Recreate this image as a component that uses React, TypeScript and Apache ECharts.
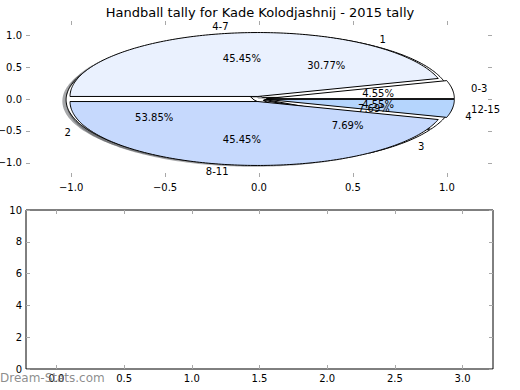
import React, { useEffect, useRef } from "react";
import * as echarts from "echarts";

// ---- data ----
const ageLabels = ["0-3", "4-7", "8-11", "12-15"];
const ageValues = [1, 10, 10, 1];
const countLabels = ["1", "2", "3", "4"];
const countValues = [4, 7, 1, 1];
const pieTicks = [-1.0, -0.5, 0.0, 0.5, 1.0];
const bottomXTicks = [0.0, 0.5, 1.0, 1.5, 2.0, 2.5, 3.0];
const titleText = "Handball tally for Kade Kolodjashnij - 2015 tally";

// ---- styling ----
const ageColors = ["#ffffff", "#eaf1fe", "#c6d9fd", "#b5d5fd"];
const countColors = ["#ffffff", "#ffffff", "#ffffff", "#ffffff"];
const AGE_EXPLODE = 0.04;
const COUNT_EXPLODE = 0.03;
const FONT = '"DejaVu Sans", sans-serif';

type Wedge = { t1: number; t2: number; mid: number; cx: number; cy: number; frac: number };

function layout(values: number[], explode: number): Wedge[] {
  const total = values.reduce((a, b) => a + b, 0);
  let t = 0;
  return values.map((v) => {
    const t1 = t;
    const t2 = t + (360 * v) / total;
    t = t2;
    const mid = (((t1 + t2) / 2) * Math.PI) / 180;
    return { t1, t2, mid, cx: explode * Math.cos(mid), cy: explode * Math.sin(mid), frac: v / total };
  });
}

const ageLayout = layout(ageValues, AGE_EXPLODE);
const countLayout = layout(countValues, COUNT_EXPLODE);

function wedgePoints(api: any, w: Wedge, dx: number, dy: number) {
  const pts: number[][] = [api.coord([w.cx + dx, w.cy + dy])];
  const n = Math.max(2, Math.ceil((w.t2 - w.t1) / 1));
  for (let k = 0; k <= n; k++) {
    const th = ((w.t1 + ((w.t2 - w.t1) * k) / n) * Math.PI) / 180;
    pts.push(api.coord([w.cx + dx + Math.cos(th), w.cy + dy + Math.sin(th)]));
  }
  return pts;
}

function wedgeSeries(lay: Wedge[], colors: string[], shadow: boolean, values: number[]) {
  return {
    type: "custom",
    xAxisIndex: 0,
    yAxisIndex: 0,
    clip: false,
    silent: true,
    data: values.map((v, i) => [i, v]),
    encode: { x: 0, y: 1 },
    renderItem: (params: any, api: any) => {
      const i = api.value(0);
      const w = lay[i];
      if (shadow) {
        return {
          type: "polygon",
          shape: { points: wedgePoints(api, w, -0.02, -0.02) },
          style: { fill: "rgba(60,62,66,0.45)", stroke: "none" },
        };
      }
      return {
        type: "polygon",
        shape: { points: wedgePoints(api, w, 0, 0) },
        style: { fill: colors[i], stroke: "#000", lineWidth: 1 },
      };
    },
  };
}

function labelSeries(lay: Wedge[], labels: string[], values: number[]) {
  return {
    type: "custom",
    xAxisIndex: 0,
    yAxisIndex: 0,
    clip: false,
    silent: true,
    data: values.map((v, i) => [i, v]),
    encode: { x: 0, y: 1 },
    renderItem: (params: any, api: any) => {
      const i = api.value(0);
      const w = lay[i];
      const xt = w.cx + 1.1 * Math.cos(w.mid);
      const yt = w.cy + 1.1 * Math.sin(w.mid);
      const p = api.coord([xt, yt]);
      const xp = w.cx + 0.6 * Math.cos(w.mid);
      const yp = w.cy + 0.6 * Math.sin(w.mid);
      const q = api.coord([xp, yp]);
      return {
        type: "group",
        children: [
          {
            type: "text",
            x: p[0],
            y: p[1],
            style: {
              text: labels[i],
              fill: "#000",
              fontSize: 10,
              fontFamily: FONT,
              align: xt > 0 ? "left" : "right",
              verticalAlign: "middle",
            },
          },
          {
            type: "text",
            x: q[0],
            y: q[1],
            style: {
              text: (w.frac * 100).toFixed(2) + "%",
              fill: "#000",
              fontSize: 10,
              fontFamily: FONT,
              align: "center",
              verticalAlign: "middle",
            },
          },
        ],
      };
    },
  };
}

const fmt = (v: number) => (v < 0 ? "\u2212" : "") + Math.abs(v).toFixed(1);

const tick = (vals?: number[]) => ({
  show: true,
  inside: true,
  length: 4,
  lineStyle: { color: "#a8a8a8", width: 1 },
  ...(vals ? { customValues: vals } : {}),
});

export default function App() {
  const ref = useRef<HTMLDivElement>(null);
  useEffect(() => {
    if (!ref.current) return;
    const chart = echarts.init(ref.current, undefined, { renderer: "svg" });
    const labelStyle = { color: "#000", fontSize: 10, fontFamily: FONT };
    chart.setOption({
      animation: false,
      backgroundColor: "#ffffff",
      title: {
        text: titleText,
        left: "center",
        top: 1,
        textStyle: { color: "#000", fontSize: 13, fontWeight: "normal", fontFamily: FONT },
      },
      grid: [
        { left: 26, top: 21, width: 466, height: 156, outerBoundsMode: "none", containLabel: false },
        {
          left: 26,
          top: 210,
          width: 467,
          height: 159,
          show: true,
          borderColor: "#000",
          borderWidth: 1,
          backgroundColor: "transparent",
          outerBoundsMode: "none",
          containLabel: false,
        },
      ],
      xAxis: [
        {
          gridIndex: 0,
          type: "value",
          position: "bottom",
          min: -1.24,
          max: 1.24,
          axisLine: { show: false, onZero: false },
          axisTick: tick(pieTicks),
          axisLabel: { ...labelStyle, customValues: pieTicks, formatter: fmt, margin: 5 },
          splitLine: { show: false },
        },
        {
          gridIndex: 0,
          type: "value",
          position: "top",
          min: -1.24,
          max: 1.24,
          axisLine: { show: false, onZero: false },
          axisTick: tick(pieTicks),
          axisLabel: { show: false },
          splitLine: { show: false },
        },
        {
          gridIndex: 1,
          type: "value",
          position: "bottom",
          min: -0.225,
          max: 3.225,
          axisLine: { show: false, onZero: false },
          axisTick: tick(bottomXTicks),
          axisLabel: { ...labelStyle, customValues: bottomXTicks, formatter: fmt, margin: 4 },
          splitLine: { show: false },
        },
        {
          gridIndex: 1,
          type: "value",
          position: "top",
          min: -0.225,
          max: 3.225,
          axisLine: { show: false, onZero: false },
          axisTick: tick(bottomXTicks),
          axisLabel: { show: false },
          splitLine: { show: false },
        },
      ],
      yAxis: [
        {
          gridIndex: 0,
          type: "value",
          position: "left",
          min: -1.22,
          max: 1.22,
          axisLine: { show: false, onZero: false },
          axisTick: tick(pieTicks),
          axisLabel: { ...labelStyle, customValues: pieTicks, formatter: fmt, margin: 4 },
          splitLine: { show: false },
        },
        {
          gridIndex: 0,
          type: "value",
          position: "right",
          min: -1.22,
          max: 1.22,
          axisLine: { show: false, onZero: false },
          axisTick: tick(pieTicks),
          axisLabel: { show: false },
          splitLine: { show: false },
        },
        {
          gridIndex: 1,
          type: "value",
          position: "left",
          min: 0,
          max: 10,
          interval: 2,
          axisLine: { show: false, onZero: false },
          axisTick: tick(),
          axisLabel: { ...labelStyle, margin: 4 },
          splitLine: { show: false },
        },
        {
          gridIndex: 1,
          type: "value",
          position: "right",
          min: 0,
          max: 10,
          interval: 2,
          axisLine: { show: false, onZero: false },
          axisTick: tick(),
          axisLabel: { show: false },
          splitLine: { show: false },
        },
      ],
      series: [
        wedgeSeries(countLayout, countColors, true, countValues),
        wedgeSeries(ageLayout, ageColors, true, ageValues),
        wedgeSeries(countLayout, countColors, false, countValues),
        wedgeSeries(ageLayout, ageColors, false, ageValues),
        labelSeries(countLayout, countLabels, countValues),
        labelSeries(ageLayout, ageLabels, ageValues),
      ],
      graphic: [
        {
          type: "text",
          left: 0,
          top: 372,
          z: 100,
          style: {
            text: "Dream-Stats.com",
            fill: "rgba(120,120,120,0.85)",
            fontSize: 12,
            fontFamily: FONT,
          },
        },
      ],
    });
    return () => chart.dispose();
  }, []);
  return (
    <div
      ref={ref}
      style={{ position: "fixed", left: 0, top: 0, width: 520, height: 390, background: "#fff" }}
    />
  );
}
